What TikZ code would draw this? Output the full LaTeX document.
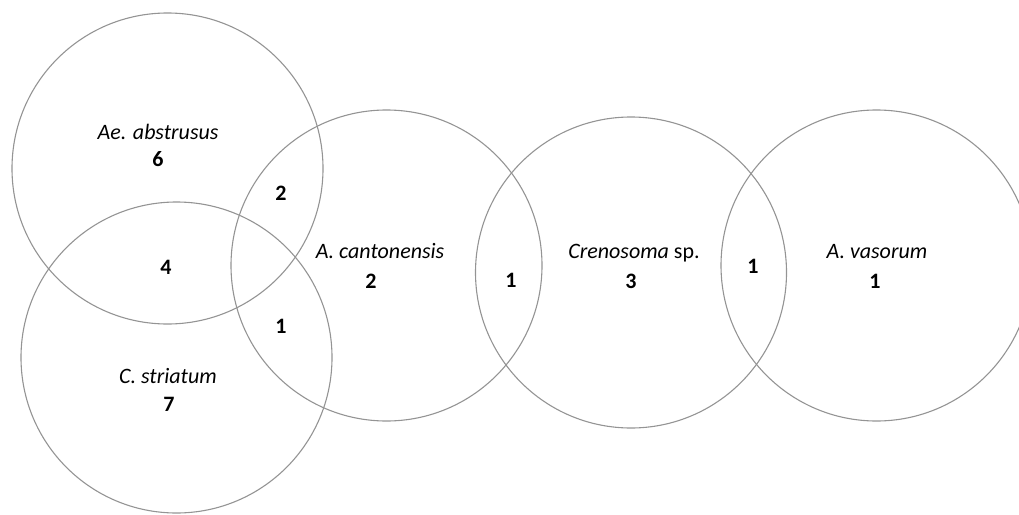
\documentclass[tikz,border=0pt]{standalone}
\usepackage{fontspec}
\setmainfont{Carlito}
\begin{document}
\begin{tikzpicture}[x=1pt,y=-1pt,
  venn/.style={circle,draw=black!42,line width=1.1pt,minimum size=311pt,inner sep=0pt},
  species/.style={font=\fontsize{22}{24}\selectfont\itshape,inner sep=0pt},
  count/.style={font=\fontsize{22}{24}\selectfont\bfseries,inner sep=0pt}]
\useasboundingbox (0,0) rectangle (1019,514);
\clip (0,0) rectangle (1019,514);
\node[venn] (ae) at (167.5,168.5) {};
\node[venn] (cs) at (176.5,357.5) {};
\node[venn] (ac) at (386.5,265.5) {};
\node[venn] (cr) at (631,272.5) {};
\node[venn] (av) at (876.5,265.5) {};
\node[species] (aeL) at (158,132) {Ae. abstrusus};
\node[count] (aeN) at (158,159) {6};
\node[count] (aeac) at (281,193) {2};
\node[count] (aecs) at (166,267) {4};
\node[count] (csac) at (281,326) {1};
\node[species] (csL) at (168,376) {C. striatum};
\node[count] (csN) at (169,404) {7};
\node[species] (acL) at (380,251) {A. cantonensis};
\node[count] (acN) at (371,281) {2};
\node[count] (accr) at (511,280) {1};
\node[species] (crL) at (634,253) {Crenosoma\/ \upshape sp.};
\node[count] (crN) at (631,281) {3};
\node[count] (crav) at (753,266) {1};
\node[species] (avL) at (877,252) {A. vasorum};
\node[count] (avN) at (875,281) {1};
\end{tikzpicture}
\end{document}
